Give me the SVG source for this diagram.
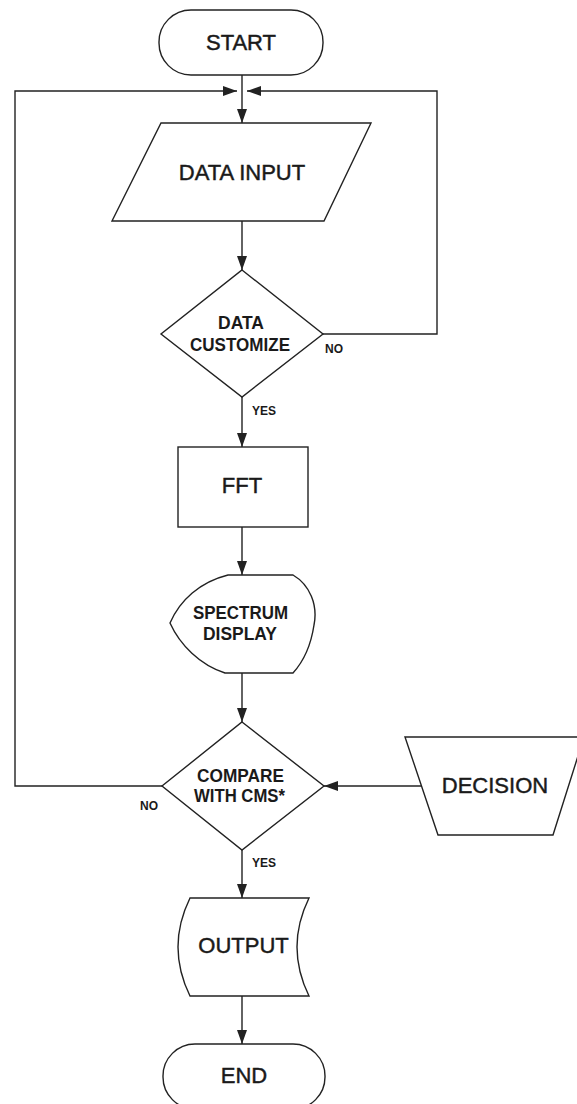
<svg xmlns="http://www.w3.org/2000/svg" width="577" height="1104" viewBox="0 0 577 1104">
<style>
.shape{fill:#ffffff;stroke:#222222;stroke-width:1.4}
.conn{fill:none;stroke:#222222;stroke-width:1.4}
.big{font-family:"Liberation Sans",Arial,sans-serif;font-size:22px;fill:#1a1a1a;stroke:#1a1a1a;stroke-width:0.45;text-anchor:middle}
.cond{font-family:"Liberation Sans",Arial,sans-serif;font-size:18px;font-weight:bold;fill:#1a1a1a;text-anchor:middle}
.lbl{font-family:"Liberation Sans",Arial,sans-serif;font-size:12px;font-weight:bold;fill:#1a1a1a}
</style>
<defs>
<marker id="arr" viewBox="0 0 14 10" refX="14" refY="5" markerWidth="14" markerHeight="10" markerUnits="userSpaceOnUse" orient="auto">
<path d="M0,0 L14,5 L0,10 Z" fill="#222222"/>
</marker>
</defs>
<rect width="577" height="1104" fill="#ffffff"/>
<g id="connectors">
<line class="conn" x1="242" y1="75" x2="242" y2="123" marker-end="url(#arr)"/>
<polyline class="conn" points="323,334 437,334 437,91 247,91" marker-end="url(#arr)"/>
<polyline class="conn" points="162,786 15,786 15,91 237,91" marker-end="url(#arr)"/>
<line class="conn" x1="242" y1="221" x2="242" y2="270" marker-end="url(#arr)"/>
<line class="conn" x1="242" y1="397" x2="242" y2="447" marker-end="url(#arr)"/>
<line class="conn" x1="242" y1="527" x2="242" y2="575" marker-end="url(#arr)"/>
<line class="conn" x1="242" y1="673" x2="242" y2="722" marker-end="url(#arr)"/>
<line class="conn" x1="422" y1="786" x2="324" y2="786" marker-end="url(#arr)"/>
<line class="conn" x1="242" y1="850" x2="242" y2="898" marker-end="url(#arr)"/>
<line class="conn" x1="242" y1="996" x2="242" y2="1044" marker-end="url(#arr)"/>
<text class="lbl" x="325" y="353">NO</text>
<text class="lbl" x="252" y="415">YES</text>
<text class="lbl" x="140" y="810">NO</text>
<text class="lbl" x="252" y="867">YES</text>
</g>
<g id="start">
<rect class="shape" x="159" y="10" width="164" height="65" rx="32" ry="32"/>
<text class="big" x="241" y="50">START</text>
</g>
<g id="data-input">
<polygon class="shape" points="161,123 371,123 324,221 112,221"/>
<text class="big" x="242" y="180">DATA INPUT</text>
</g>
<g id="data-customize">
<polygon class="shape" points="242,270 323,334 242,397 161,334"/>
<text class="cond" x="241" y="329" textLength="46" lengthAdjust="spacingAndGlyphs">DATA</text>
<text class="cond" x="240" y="351" textLength="100" lengthAdjust="spacingAndGlyphs">CUSTOMIZE</text>
</g>
<g id="fft">
<rect class="shape" x="178" y="447" width="130" height="80"/>
<text class="big" x="242" y="493">FFT</text>
</g>
<g id="spectrum-display">
<path class="shape" d="M228,575 L293,575 C310,585 318,605 314,625 C311,645 303,662 293,673 L225,673 C200,665 180,645 170,623 C180,600 200,582 228,575 Z"/>
<text class="cond" x="240.5" y="619" textLength="95" lengthAdjust="spacingAndGlyphs">SPECTRUM</text>
<text class="cond" x="240" y="640" textLength="74" lengthAdjust="spacingAndGlyphs">DISPLAY</text>
</g>
<g id="compare">
<polygon class="shape" points="242,722 324,786 242,850 162,786"/>
<text class="cond" x="240.5" y="782" textLength="87" lengthAdjust="spacingAndGlyphs">COMPARE</text>
<text class="cond" x="239.5" y="802" textLength="91" lengthAdjust="spacingAndGlyphs">WITH CMS*</text>
</g>
<g id="decision">
<polygon class="shape" points="405,737 584,737 553,835 438,835"/>
<text class="big" x="495" y="793">DECISION</text>
</g>
<g id="output">
<path class="shape" d="M190,898 L309,898 Q285,947 309,996 L190,996 Q166,947 190,898 Z"/>
<text class="big" x="243.5" y="953">OUTPUT</text>
</g>
<g id="end">
<rect class="shape" x="163" y="1044" width="162" height="65" rx="32" ry="32"/>
<text class="big" x="244" y="1083">END</text>
</g>
</svg>
